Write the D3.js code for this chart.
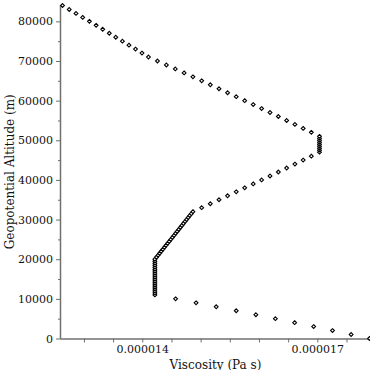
<!DOCTYPE html>
<html>
<head>
<meta charset="utf-8">
<script src="https://cdn.jsdelivr.net/npm/d3@7"></script>
<style>
  body { margin: 0; background: #fff; }
  svg { display: block; font-family: "DejaVu Serif", serif; }
  .axis path, .axis line { stroke: #707070; }
  .axis text { fill: #111; font-size: 11px; font-family: "DejaVu Serif", serif; }
</style>
</head>
<body>
<svg id="chart" width="370" height="370"></svg>
<script>
// geopotential altitude of each sample (m)
var altitude = [
  0, 1000, 2000, 3000, 4000, 5000, 6000, 7000, 8000, 9000, 10000,
  11000, 11500, 12000, 12500, 13000, 13500, 14000, 14500, 15000, 15500,
  16000, 16500, 17000, 17500, 18000, 18500, 19000, 19500, 20000,
  20500, 21000, 21500, 22000, 22500, 23000, 23500, 24000, 24500, 25000,
  25500, 26000, 26500, 27000, 27500, 28000, 28500, 29000, 29500, 30000,
  30500, 31000, 31500, 32000,
  33000, 34000, 35000, 36000, 37000, 38000, 39000, 40000, 41000, 42000,
  43000, 44000, 45000, 46000,
  47000, 47500, 48000, 48500, 49000, 49500, 50000, 50500, 51000,
  52000, 53000, 54000, 55000, 56000, 57000, 58000, 59000, 60000, 61000,
  62000, 63000, 64000, 65000, 66000, 67000, 68000, 69000, 70000, 71000,
  72000, 73000, 74000, 75000, 76000, 77000, 78000, 79000, 80000, 81000,
  82000, 83000, 84000
];

// dynamic viscosity at each altitude (Pa s)
var viscosity = [
  1.7894e-5, 1.7579e-5, 1.7260e-5, 1.6937e-5, 1.6611e-5, 1.6281e-5, 1.5947e-5, 1.5610e-5, 1.5267e-5, 1.4922e-5, 1.4571e-5,
  1.4216e-5, 1.4216e-5, 1.4216e-5, 1.4216e-5, 1.4216e-5, 1.4216e-5, 1.4216e-5, 1.4216e-5, 1.4216e-5, 1.4216e-5,
  1.4216e-5, 1.4216e-5, 1.4216e-5, 1.4216e-5, 1.4216e-5, 1.4216e-5, 1.4216e-5, 1.4216e-5, 1.4216e-5,
  1.4243e-5, 1.4271e-5, 1.4298e-5, 1.4325e-5, 1.4353e-5, 1.4380e-5, 1.4407e-5, 1.4435e-5, 1.4462e-5, 1.4489e-5,
  1.4517e-5, 1.4544e-5, 1.4571e-5, 1.4598e-5, 1.4625e-5, 1.4652e-5, 1.4679e-5, 1.4706e-5, 1.4733e-5, 1.4760e-5,
  1.4787e-5, 1.4814e-5, 1.4841e-5, 1.4868e-5,
  1.5018e-5, 1.5166e-5, 1.5315e-5, 1.5462e-5, 1.5610e-5, 1.5755e-5, 1.5901e-5, 1.6045e-5, 1.6189e-5, 1.6332e-5,
  1.6474e-5, 1.6616e-5, 1.6757e-5, 1.6897e-5,
  1.7037e-5, 1.7037e-5, 1.7037e-5, 1.7037e-5, 1.7037e-5, 1.7037e-5, 1.7037e-5, 1.7037e-5, 1.7037e-5,
  1.6897e-5, 1.6757e-5, 1.6616e-5, 1.6474e-5, 1.6332e-5, 1.6189e-5, 1.6045e-5, 1.5901e-5, 1.5755e-5, 1.5610e-5,
  1.5462e-5, 1.5315e-5, 1.5166e-5, 1.5018e-5, 1.4868e-5, 1.4717e-5, 1.4566e-5, 1.4413e-5, 1.4260e-5, 1.4106e-5,
  1.3995e-5, 1.3884e-5, 1.3772e-5, 1.3660e-5, 1.3546e-5, 1.3435e-5, 1.3322e-5, 1.3209e-5, 1.3094e-5, 1.2979e-5,
  1.2864e-5, 1.2748e-5, 1.2633e-5
];

// tick values
var xTicks = [1.30e-5, 1.35e-5, 1.40e-5, 1.45e-5, 1.50e-5, 1.55e-5, 1.60e-5, 1.65e-5, 1.70e-5, 1.75e-5];
var xLabelled = [1.40e-5, 1.70e-5];
var yTicks = [0, 10000, 20000, 30000, 40000, 50000, 60000, 70000, 80000];
var yMinorTicks = [5000, 15000, 25000, 35000, 45000, 55000, 65000, 75000];

var svg = d3.select("#chart");
var plotLeft = 61, plotBottom = 338.5, plotTop = 5;

var x = d3.scaleLinear().domain(d3.extent(viscosity)).range([62.5, 369.5]);
var y = d3.scaleLinear().domain([0, 84000]).range([plotBottom, plotTop + 0.5]);

// x axis
var xAxis = svg.append("g").attr("class", "axis")
  .attr("transform", "translate(0," + plotBottom + ")")
  .call(d3.axisBottom(x).tickValues(xTicks).tickSize(4).tickSizeOuter(0)
    .tickFormat(function(v) {
      return xLabelled.some(function(l) { return Math.abs(l - v) < 1e-9; }) ? v.toFixed(6) : "";
    }));
xAxis.select(".domain").attr("d", "M" + plotLeft + ",0.5H370").attr("stroke-width", 1.5);

// y axis, major + minor ticks
var yAxis = svg.append("g").attr("class", "axis")
  .attr("transform", "translate(" + plotLeft + ",0)")
  .call(d3.axisLeft(y).tickValues(yTicks).tickSize(5).tickSizeOuter(0).tickFormat(d3.format("d")));
yAxis.select(".domain").attr("d", "M-0.5," + plotTop + "V" + (plotBottom + 0.5)).attr("stroke-width", 1.5);

var yMinor = svg.append("g").attr("class", "axis")
  .attr("transform", "translate(" + plotLeft + ",0)")
  .call(d3.axisLeft(y).tickValues(yMinorTicks).tickSize(3).tickFormat(""));
yMinor.select(".domain").remove();

// axis titles
svg.append("text")
  .attr("x", 215.5).attr("y", 368.5)
  .attr("text-anchor", "middle")
  .style("font-size", "12px").attr("fill", "#111")
  .text("Viscosity (Pa s)");

svg.append("text")
  .attr("transform", "translate(13.5," + ((plotTop + plotBottom) / 2) + ") rotate(-90)")
  .attr("text-anchor", "middle")
  .style("font-size", "12px").attr("fill", "#111")
  .text("Geopotential Altitude (m)");

// diamond markers
var r = 1.9;
svg.append("g").selectAll("path")
  .data(altitude)
  .join("path")
  .attr("transform", function(d, i) { return "translate(" + x(viscosity[i]) + "," + y(d) + ")"; })
  .attr("d", "M0," + (-r) + "L" + r + ",0L0," + r + "L" + (-r) + ",0Z")
  .attr("fill", "#fff")
  .attr("stroke", "#000")
  .attr("stroke-width", 1.1);
</script>
</body>
</html>
